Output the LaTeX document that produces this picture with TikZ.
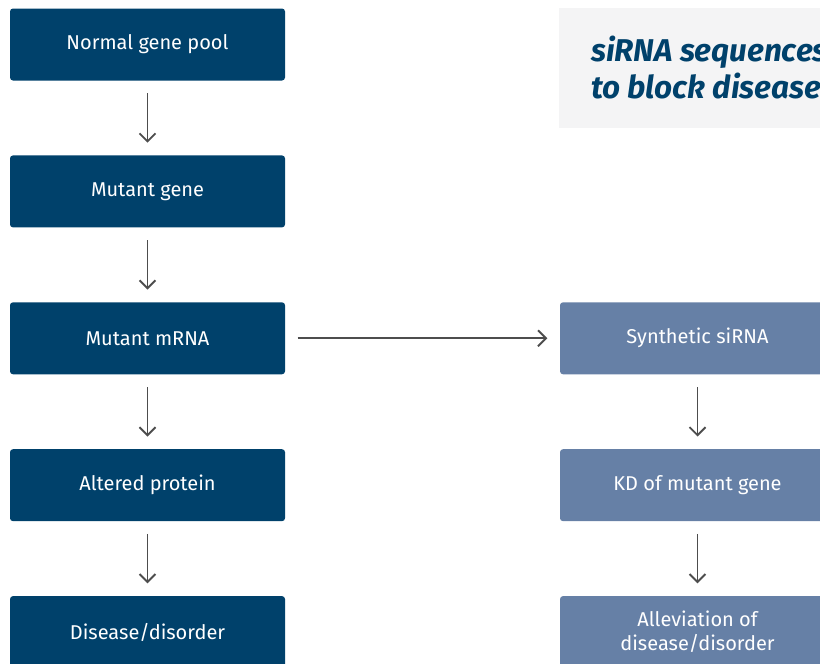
\documentclass[tikz,border=0pt]{standalone}
\usepackage{fontspec}
\setmainfont{Fira Sans}
\usetikzlibrary{positioning, arrows.meta}
\definecolor{darkblue}{HTML}{00416B}
\definecolor{paleblue}{HTML}{6680A6}
\definecolor{titlegray}{HTML}{F4F4F5}
\definecolor{arrowgray}{HTML}{4D4D4D}

\begin{document}
\begin{tikzpicture}[x=1pt,y=1pt,node distance=74.5pt,
    box/.style={rounded corners=3pt, minimum width=275pt, minimum height=72pt,
      text=white, align=center, font=\fontsize{20}{24}\selectfont, inner sep=0pt},
    disease/.style={box, fill=darkblue},
    therapy/.style={box, fill=paleblue},
    flow/.style={-{Straight Barb[length=8pt,width=16pt]}, draw=arrowgray,
      line width=1.9pt, shorten <=12.5pt, shorten >=12.5pt}]
  \useasboundingbox (0,0) rectangle (820,-664);
  \clip (0,0) rectangle (820,-664);
  \fill[titlegray] (559,-8) rectangle (850,-128);
  \node[anchor=west, align=left, text=darkblue, inner sep=0pt,
    font=\fontsize{31.5}{37}\selectfont\bfseries\itshape] (T) at (591,-68)
    {siRNA sequences\\to block disease};
  \node[disease] (N0) at (147.5,-44.5) {Normal gene pool};
  \node[disease, below=of N0] (N1) {Mutant gene};
  \node[disease, below=of N1] (N2) {Mutant mRNA};
  \node[disease, below=of N2] (N3) {Altered protein};
  \node[disease, below=of N3] (N4) {Disease/disorder};
  \coordinate (R) at (697.5,0);
  \node[therapy] (S0) at (R |- N2) {Synthetic siRNA};
  \node[therapy, below=of S0] (S1) {KD of mutant gene};
  \node[therapy, below=of S1] (S2) {Alleviation of\\disease/disorder};
  \draw[flow] (N0) -- (N1);
  \draw[flow] (N1) -- (N2);
  \draw[flow] (N2) -- (N3);
  \draw[flow] (N3) -- (N4);
  \draw[flow] (N2) -- (S0);
  \draw[flow] (S0) -- (S1);
  \draw[flow] (S1) -- (S2);
\end{tikzpicture}
\end{document}
